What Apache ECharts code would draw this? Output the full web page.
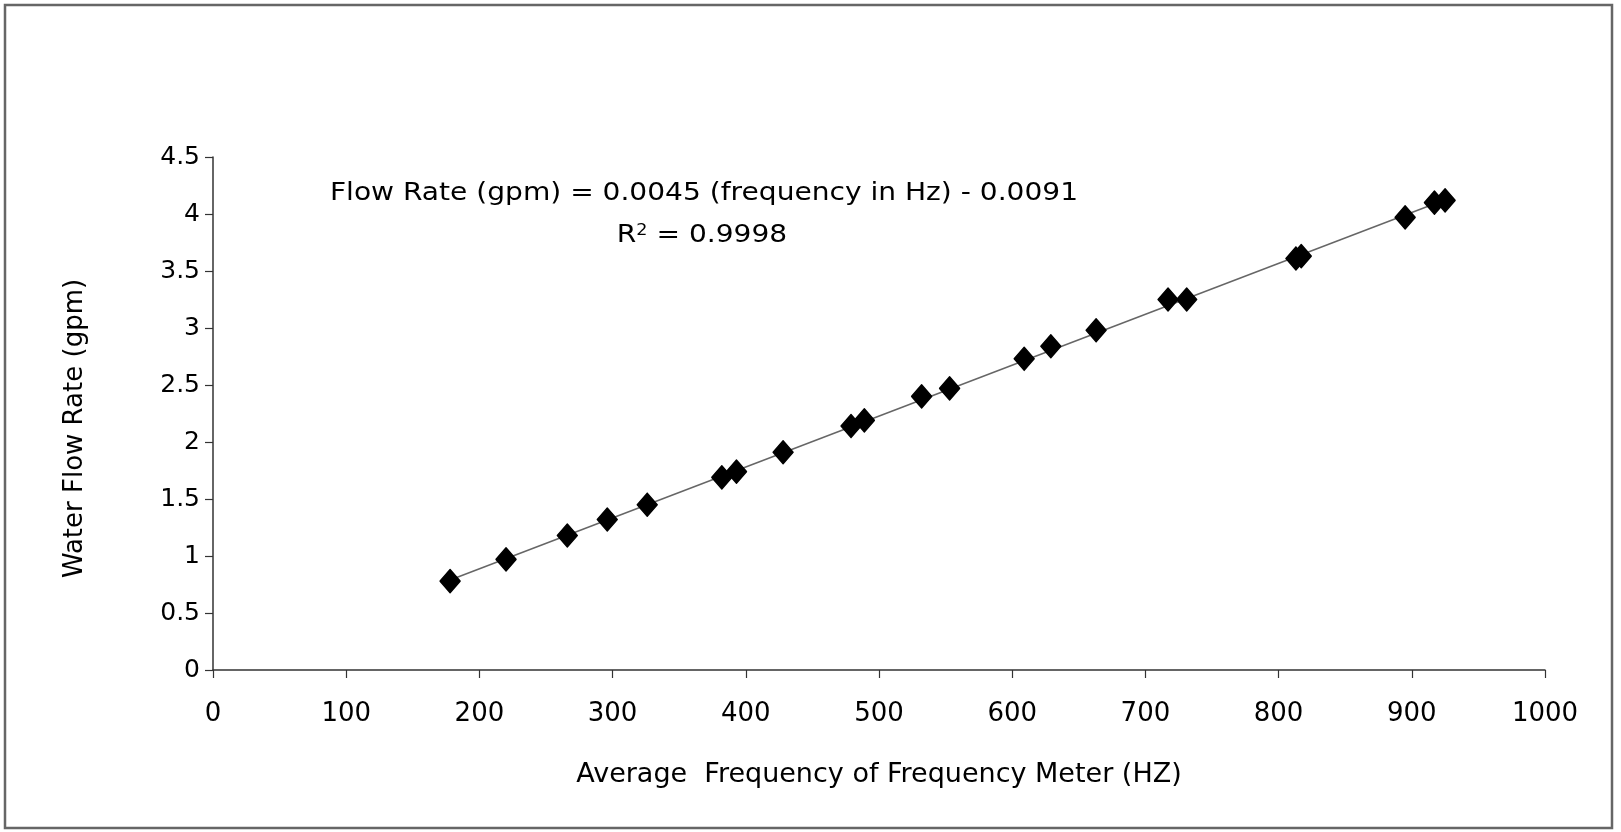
<!DOCTYPE html>
<html>
<head>
<meta charset="utf-8">
<script src="https://cdn.jsdelivr.net/npm/echarts@6/dist/echarts.min.js"></script>
<style>
html,body{margin:0;padding:0;background:#fff;}
#chart{width:1621px;height:832px;}
</style>
</head>
<body>
<div id="chart"></div>
<script>
// Data
const frequencyHz = [178, 220, 266, 296, 326, 382, 393, 428, 479, 489, 532, 553, 609, 629, 663, 717, 731, 813, 817, 895, 917, 925];
const flowGpm     = [0.78, 0.97, 1.18, 1.32, 1.45, 1.69, 1.74, 1.91, 2.14, 2.19, 2.40, 2.47, 2.73, 2.84, 2.98, 3.25, 3.25, 3.61, 3.63, 3.97, 4.10, 4.12];
const trendX = [178, 926];
const trendY = [0.79, 4.13];
const xTicks = [0, 100, 200, 300, 400, 500, 600, 700, 800, 900, 1000];
const yTicks = [0, 0.5, 1, 1.5, 2, 2.5, 3, 3.5, 4, 4.5];
const xTitle = 'Average  Frequency of Frequency Meter (HZ)';
const yTitle = 'Water Flow Rate (gpm)';
const eqLine1 = 'Flow Rate (gpm) = 0.0045 (frequency in Hz) - 0.0091';
const eqLine2 = ' = 0.9998';

const FONT = '"DejaVu Sans", "Liberation Sans", Arial, sans-serif';
const chart = echarts.init(document.getElementById('chart'), null, {renderer: 'canvas'});
const scatterData = frequencyHz.map((x, i) => [x, flowGpm[i]]);
const trendData = trendX.map((x, i) => [x, trendY[i]]);

chart.setOption({
  backgroundColor: '#fff',
  animation: false,
  grid: {left: 213, right: 76, top: 157, bottom: 162, containLabel: false},
  xAxis: {
    type: 'value', min: xTicks[0], max: xTicks[xTicks.length - 1], interval: 100,
    name: xTitle, nameLocation: 'middle', nameGap: 91,
    nameTextStyle: {fontFamily: FONT, fontSize: 27, color: '#000'},
    axisLine: {show: true, lineStyle: {color: '#333', width: 1.5}},
    axisTick: {show: true, inside: false, length: 8, lineStyle: {color: '#333', width: 1.2}},
    axisLabel: {fontFamily: FONT, fontSize: 26, color: '#000', margin: 31,
      formatter: v => String(v)},
    splitLine: {show: false}
  },
  yAxis: {
    type: 'value', min: yTicks[0], max: yTicks[yTicks.length - 1], interval: 0.5,
    name: yTitle, nameLocation: 'middle', nameGap: 125, nameRotate: 90,
    nameTextStyle: {fontFamily: FONT, fontSize: 26, color: '#000', padding: [0, 30, 0, 0]},
    axisLine: {show: true, lineStyle: {color: '#333', width: 1.5}},
    axisTick: {show: true, inside: false, length: 8, lineStyle: {color: '#333', width: 1.2}},
    axisLabel: {fontFamily: FONT, fontSize: 25, color: '#000', margin: 13,
      formatter: v => String(v)},
    splitLine: {show: false}
  },
  series: [
    {
      type: 'line', data: trendData, showSymbol: false, symbol: 'none',
      lineStyle: {color: '#666', width: 1.5}, z: 2, silent: true
    },
    {
      type: 'scatter', data: scatterData, symbol: 'diamond', symbolSize: [20, 23],
      itemStyle: {color: '#000', borderColor: '#000', borderWidth: 1.5, borderJoin: 'round', opacity: 1}, z: 3
    }
  ],
  graphic: [
    {
      type: 'rect', shape: {x: 5, y: 5, width: 1607, height: 823},
      style: {fill: 'none', stroke: '#666', lineWidth: 2.5}, silent: true
    },
    {
      type: 'text', x: 704, y: 194, scaleX: 1.17, scaleY: 1,
      style: {text: eqLine1, font: '24px ' + FONT, fill: '#000', align: 'center', verticalAlign: 'middle'}
    },
    {
      type: 'text', x: 702, y: 236, scaleX: 1.17, scaleY: 1,
      style: {
        text: '{r|R}{s|2}{r|' + eqLine2 + '}',
        align: 'center', verticalAlign: 'middle',
        rich: {
          r: {fontFamily: FONT, fontSize: 24, color: '#000'},
          s: {fontFamily: FONT, fontSize: 15, color: '#000', verticalAlign: 'top', padding: [0, 0, 10, 0]}
        }
      }
    }
  ]
});
</script>
</body>
</html>
